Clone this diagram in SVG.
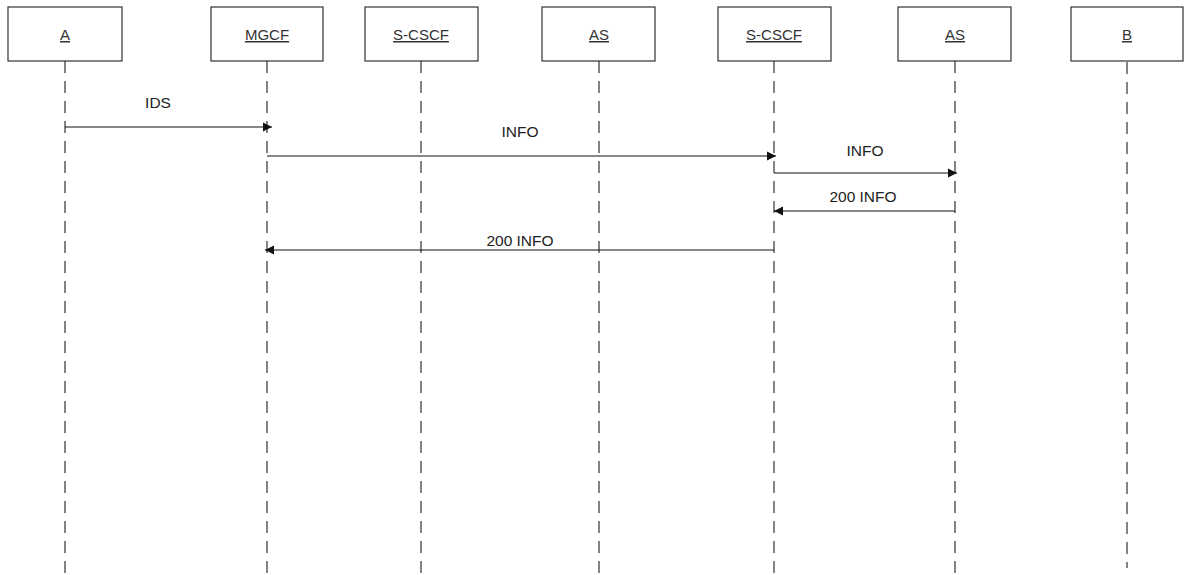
<svg xmlns="http://www.w3.org/2000/svg" width="1184" height="575" viewBox="0 0 1184 575">
<style>
.box{fill:#fff;stroke:#333;stroke-width:1.2}
.name{font-family:"Liberation Sans",Arial,sans-serif;font-size:15px;fill:#333;text-anchor:middle;text-decoration:underline}
.life{stroke:#333;stroke-width:1.2;stroke-dasharray:12 8;fill:none}
.msg{stroke:#111;stroke-width:1.2;fill:none;marker-end:url(#ah)}
.lbl{font-family:"Liberation Sans",Arial,sans-serif;font-size:15.5px;fill:#222;text-anchor:middle}
</style>
<defs>
<marker id="ah" markerWidth="10" markerHeight="10" refX="9" refY="5" orient="auto" markerUnits="userSpaceOnUse">
<path d="M0,0.5 L9,5 L0,9.5 Z" fill="#111"/>
</marker>
</defs>
<rect width="1184" height="575" fill="#fff"/>
<g id="lifelines">
<line class="life" x1="65" y1="61" x2="65" y2="575"/>
<line class="life" x1="267" y1="61" x2="267" y2="575"/>
<line class="life" x1="421" y1="61" x2="421" y2="575"/>
<line class="life" x1="599" y1="61" x2="599" y2="575"/>
<line class="life" x1="774" y1="61" x2="774" y2="575"/>
<line class="life" x1="955" y1="61" x2="955" y2="575"/>
<line class="life" x1="1127" y1="62" x2="1127" y2="568"/>
</g>
<g id="nA"><rect class="box" x="8" y="7" width="114" height="54"/><text class="name" x="65" y="40">A</text></g>
<g id="nMGCF"><rect class="box" x="211" y="7" width="112" height="54"/><text class="name" x="267" y="40">MGCF</text></g>
<g id="nSCSCF1"><rect class="box" x="365" y="7" width="113" height="54"/><text class="name" x="421" y="40">S-CSCF</text></g>
<g id="nAS1"><rect class="box" x="542" y="7" width="113" height="54"/><text class="name" x="599" y="40">AS</text></g>
<g id="nSCSCF2"><rect class="box" x="718" y="7" width="113" height="54"/><text class="name" x="774" y="40">S-CSCF</text></g>
<g id="nAS2"><rect class="box" x="898" y="7" width="113" height="54"/><text class="name" x="955" y="40">AS</text></g>
<g id="nB"><rect class="box" x="1071" y="7" width="112" height="54"/><text class="name" x="1127" y="40">B</text></g>
<g id="connectors">
<line class="msg" x1="65" y1="127" x2="272" y2="127"/>
<text class="lbl" x="158" y="108">IDS</text>
<line class="msg" x1="267" y1="156" x2="776" y2="156"/>
<text class="lbl" x="520" y="137">INFO</text>
<line class="msg" x1="774" y1="173" x2="957" y2="173"/>
<text class="lbl" x="865" y="156">INFO</text>
<line class="msg" x1="955" y1="211" x2="774" y2="211"/>
<text class="lbl" x="863" y="202">200 INFO</text>
<line class="msg" x1="774" y1="250" x2="265" y2="250"/>
<text class="lbl" x="520" y="246">200 INFO</text>
</g>
</svg>
